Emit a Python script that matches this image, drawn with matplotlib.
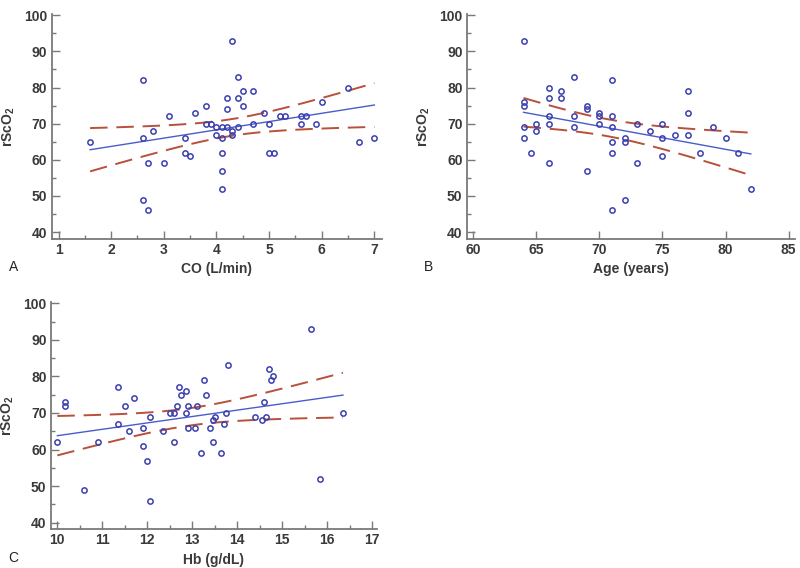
import numpy as np
import matplotlib
matplotlib.use('Agg')
import matplotlib.pyplot as plt
from matplotlib.ticker import MultipleLocator

plt.rcParams['font.family'] = ['Liberation Sans', 'DejaVu Sans']
plt.rcParams['mathtext.fontset'] = 'custom'
plt.rcParams['mathtext.rm'] = 'Liberation Sans'
plt.rcParams['mathtext.bf'] = 'Liberation Sans:bold'

# panel A: cardiac output vs rScO2
co = [1.6, 2.6, 2.6, 2.6, 2.7, 2.7, 2.8, 3.0, 3.1, 3.4, 3.4, 3.5, 3.6, 3.8, 3.8,
      3.9, 4.0, 4.0, 4.1, 4.1, 4.1, 4.1, 4.1, 4.2, 4.2, 4.2, 4.3, 4.3, 4.3, 4.4,
      4.4, 4.4, 4.5, 4.5, 4.7, 4.7, 4.9, 5.0, 5.0, 5.1, 5.2, 5.3, 5.6, 5.6, 5.7,
      5.9, 6.0, 6.5, 6.7, 7.0]
rsco2_a = [65, 82, 66, 49, 46, 59, 68, 59, 72, 66, 62, 61, 73, 75, 70,
           70, 69, 67, 69, 66, 62, 57, 52, 69, 77, 74, 93, 68, 67, 83,
           77, 69, 79, 75, 79, 70, 73, 70, 62, 62, 72, 72, 72, 70, 72,
           70, 76, 80, 65, 66]

# panel B: age vs rScO2
age = [64, 64, 64, 64, 64, 64.6, 65, 65, 66, 66, 66, 66, 66, 67, 67,
       68, 68, 68, 69, 69, 69, 70, 70, 70, 71, 71, 71, 71, 71, 71,
       72, 72, 72, 73, 73, 74, 75, 75, 75, 76, 77, 77, 77, 78, 79,
       80, 81, 82]
rsco2_b = [93, 76, 75, 69, 66, 62, 70, 68, 80, 77, 72, 70, 59, 79, 77,
           83, 72, 69, 75, 74, 57, 73, 72, 70, 82, 72, 69, 65, 62, 46,
           66, 65, 49, 70, 59, 68, 70, 66, 61, 67, 79, 73, 67, 62, 69,
           66, 62, 52]

# panel C: haemoglobin vs rScO2
hb = [10.0, 10.16, 10.16, 10.6, 10.9, 11.35, 11.35, 11.5, 11.6, 11.7, 11.9, 11.9,
      11.99, 12.05, 12.05, 12.35, 12.5, 12.6, 12.6, 12.65, 12.7, 12.75, 12.85, 12.85,
      12.9, 12.9, 13.05, 13.1, 13.2, 13.25, 13.3, 13.4, 13.45, 13.46, 13.5, 13.65,
      13.7, 13.75, 13.8, 14.4, 14.55, 14.6, 14.65, 14.7, 14.75, 14.8, 15.65, 15.85,
      16.35]
rsco2_c = [62, 73, 72, 49, 62, 77, 67, 72, 65, 74, 66, 61,
           57, 69, 46, 65, 70, 70, 62, 72, 77, 75, 76, 70,
           72, 66, 66, 72, 59, 79, 75, 66, 62, 68, 69, 59,
           67, 70, 83, 69, 68, 73, 69, 82, 79, 80, 93, 52,
           70]

panels = [
    dict(x=co, y=rsco2_a, xlabel='CO (L/min)', letter='A', xlim=(0.867, 7.14),
         xmajor=1, xminor=0.5, rect=[0.0644, 0.580, 0.4128, 0.395]),
    dict(x=age, y=rsco2_b, xlabel='Age (years)', letter='B', xlim=(59.5, 85.5),
         xmajor=5, xminor=None, rect=[0.5834, 0.580, 0.4104, 0.395]),
    dict(x=hb, y=rsco2_c, xlabel='Hb (g/dL)', letter='C', xlim=(9.853, 17.11),
         xmajor=1, xminor=0.5, rect=[0.0634, 0.0681, 0.408, 0.400]),
]

grey = '#7a7a7a'
txt = '#3a3a3a'

fig = plt.figure(figsize=(8, 5.68), dpi=100)

for p in panels:
    ax = fig.add_axes(p['rect'])
    x = np.array(p['x'], dtype=float)
    y = np.array(p['y'], dtype=float)

    # regression line with 95% confidence band of the mean
    n = len(x)
    b, a = np.polyfit(x, y, 1)
    resid = y - (a + b * x)
    s = np.sqrt(np.sum(resid**2) / (n - 2))
    t = 2.01
    xs = np.linspace(x.min(), x.max(), 100)
    ys = a + b * xs
    se = s * np.sqrt(1 / n + (xs - x.mean())**2 / np.sum((x - x.mean())**2))

    ax.plot(xs, ys, color='#4a5cc8', lw=1.0, zorder=2)
    ax.plot(xs, ys + t * se, color='#b8503a', lw=1.4, dashes=(9, 4.5), zorder=2)
    ax.plot(xs, ys - t * se, color='#b8503a', lw=1.4, dashes=(9, 4.5), zorder=2)
    ax.plot(x, y, 'o', mfc='none', mec='#3b3fae', mew=1.1, ms=3.8, zorder=3)

    ax.set_xlim(*p['xlim'])
    ax.set_ylim(38.2, 100.3)
    ax.xaxis.set_major_locator(MultipleLocator(p['xmajor']))
    if p['xminor']:
        ax.xaxis.set_minor_locator(MultipleLocator(p['xminor']))
    ax.yaxis.set_major_locator(MultipleLocator(10))
    ax.yaxis.set_minor_locator(MultipleLocator(5))

    for side in ['top', 'right']:
        ax.spines[side].set_visible(False)
    for side in ['left', 'bottom']:
        ax.spines[side].set_color(grey)
        ax.spines[side].set_linewidth(1.3)
    ax.tick_params(which='major', direction='in', length=6, width=1.0, color=grey,
                   labelsize=10, labelcolor=txt, pad=3)
    ax.tick_params(which='minor', direction='in', length=3, width=1.0, color=grey)
    for lab in ax.get_xticklabels() + ax.get_yticklabels():
        lab.set_fontweight('bold')

    ax.set_xlabel(p['xlabel'], fontsize=10, fontweight='bold', color=txt, labelpad=4)
    ax.set_ylabel(r'rScO$_\mathbf{2}$', fontsize=10, fontweight='bold', color=txt,
                  labelpad=5)
    ax.text(-0.13, -0.125, p['letter'], transform=ax.transAxes, fontsize=10,
            color='#222222', ha='left', va='center')

fig.savefig('out.png', dpi=100)
